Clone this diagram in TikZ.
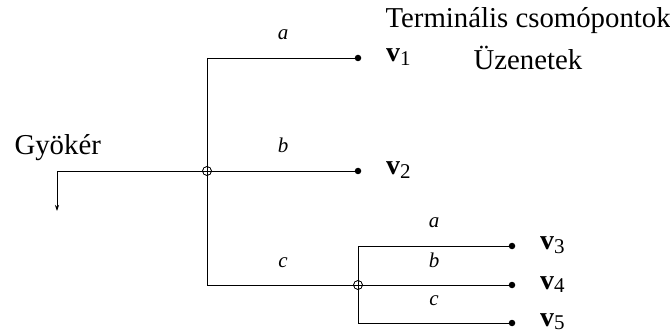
\documentclass[tikz,border=0pt]{standalone}
\usepackage{fontspec}
\setmainfont{Liberation Serif}
\usetikzlibrary{arrows.meta}
\begin{document}
\begin{tikzpicture}[x=1pt,y=-1pt,
  ln/.style={line width=0.7pt},
  junct/.style={circle,draw,line width=0.6pt,inner sep=0pt,minimum size=9pt},
  term/.style={circle,fill,inner sep=0pt,minimum size=6.5pt},
  lbl/.style={font=\fontsize{21}{24}\selectfont\itshape,anchor=base},
  big/.style={font=\fontsize{28.8}{32}\selectfont,anchor=base west},
  vlab/.style={font=\fontsize{28}{30}\selectfont,anchor=base west,inner sep=0pt}]
\useasboundingbox (0,0) rectangle (670,334);
% nodes
\node[junct] (r) at (207,171) {};
\node[junct] (n2) at (358,285) {};
\node[term] (d1) at (358,58) {};
\node[term] (d2) at (358,171) {};
\node[term] (d3) at (512,246) {};
\node[term] (d4) at (512,285) {};
\node[term] (d5) at (512,323) {};
\coordinate (t1) at (207,58);
\coordinate (b1) at (207,285);
\coordinate (t2) at (358,246);
\coordinate (b2) at (358,323);
\coordinate (ar) at (57,211);
% connectors
\draw[ln] (t1) -- (b1);
\draw[ln] (t1) -- (d1.center);
\draw[ln] (r.center) -- (d2.center);
\draw[ln] (b1) -- (n2.center);
\draw[ln,-{Stealth[length=6pt,width=4pt]}] (r.center) -| (ar);
\draw[ln] (t2) -- (b2);
\draw[ln] (t2) -- (d3.center);
\draw[ln] (n2.center) -- (d4.center);
\draw[ln] (b2) -- (d5.center);
\node[junct] at (r) {};
\node[junct] at (n2) {};
% labels
\node[lbl] (la1) at (283,40) {a};
\node[lbl] (lb1) at (283,153) {b};
\node[lbl] (lc1) at (283,267) {c};
\node[lbl] (la2) at (434,228) {a};
\node[lbl] (lb2) at (434,267) {b};
\node[lbl] (lc2) at (434,305) {c};
\node[vlab] (v1) at (386,62) {\textbf{v}\raisebox{-3.5pt}{\fontsize{21}{22}\selectfont 1}};
\node[vlab] (v2) at (386,175) {\textbf{v}\raisebox{-3.5pt}{\fontsize{21}{22}\selectfont 2}};
\node[vlab] (v3) at (540,250) {\textbf{v}\raisebox{-3.5pt}{\fontsize{21}{22}\selectfont 3}};
\node[vlab] (v4) at (540,289) {\textbf{v}\raisebox{-3.5pt}{\fontsize{21}{22}\selectfont 4}};
\node[vlab] (v5) at (540,326) {\textbf{v}\raisebox{-3.5pt}{\fontsize{21}{22}\selectfont 5}};
\node[big] (gy) at (11,155) {Gyökér};
\node[big] (term) at (382,28) {Terminális csomópontok};
\node[big] (uz) at (470,70) {Üzenetek};
\end{tikzpicture}
\end{document}
